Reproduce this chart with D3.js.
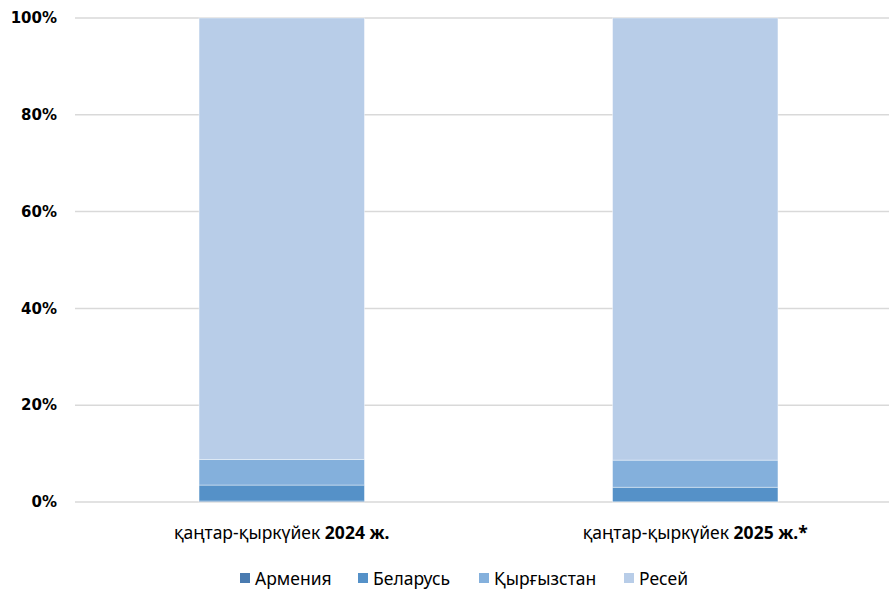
<!DOCTYPE html>
<html>
<head>
<meta charset="utf-8">
<style>
  body { margin: 0; background: #fff; }
</style>
</head>
<body>
<svg id="chart" width="889" height="595"></svg>

<script src="https://d3js.org/d3.v7.min.js"></script>
<script>
  // categories (x) split into a normal and a bold part
  const periods = ['қаңтар-қыркүйек', 'қаңтар-қыркүйек']
  const periodBold = ['2024 ж.', '2025 ж.*']

  // series, bottom to top, % shares
  const countries = ['Армения', 'Беларусь', 'Қырғызстан', 'Ресей']
  const armenia = [0.2, 0.05]
  const belarus = [3.3, 3.0]
  const kyrgyzstan = [5.3, 5.6]
  const russia = [91.2, 91.35]
  const colors = ['#4a7bb0', '#5591c8', '#84b0dc', '#b8cde8']

  const yTicks = [0, 20, 40, 60, 80, 100]

  const svg = d3.select('#chart')
  const plotLeft = 75, plotRight = 902, plotTop = 18, plotBottom = 502

  const rows = periods.map((p, i) => ({
    key: i,
    'Армения': armenia[i],
    'Беларусь': belarus[i],
    'Қырғызстан': kyrgyzstan[i],
    'Ресей': russia[i]
  }))
  const stacked = d3.stack().keys(countries)(rows)

  const x = d3.scaleBand()
    .domain(rows.map(r => r.key))
    .range([plotLeft, plotRight])
    .paddingInner(0.6)
    .paddingOuter(0.3)

  const y = d3.scaleLinear().domain([0, 100]).range([plotBottom, plotTop])

  // gridlines
  svg.append('g')
    .selectAll('line')
    .data(yTicks)
    .join('line')
    .attr('x1', plotLeft).attr('x2', 889)
    .attr('y1', d => y(d)).attr('y2', d => y(d))
    .attr('stroke', '#d9d9d9')
    .attr('stroke-width', 1.5)

  // y labels
  svg.append('g')
    .selectAll('text')
    .data(yTicks)
    .join('text')
    .attr('x', 57)
    .attr('y', d => y(d))
    .attr('dy', '0.35em')
    .attr('text-anchor', 'end')
    .attr('font-family', '"DejaVu Sans", sans-serif')
    .attr('font-weight', 'bold')
    .attr('font-size', 15)
    .attr('fill', '#000')
    .text(d => d + '%')

  // bars
  svg.append('g')
    .selectAll('g')
    .data(stacked)
    .join('g')
    .attr('fill', (d, i) => colors[i])
    .selectAll('rect')
    .data(d => d)
    .join('rect')
    .attr('x', d => x(d.data.key))
    .attr('width', x.bandwidth())
    .attr('y', d => y(d[1]))
    .attr('height', d => y(d[0]) - y(d[1]))
    .attr('stroke', '#fff')
    .attr('stroke-opacity', 0.5)
    .attr('stroke-width', 0.8)

  // x labels
  const xl = svg.append('g')
    .selectAll('text')
    .data(rows)
    .join('text')
    .attr('x', d => x(d.key) + x.bandwidth() / 2)
    .attr('y', 539)
    .attr('text-anchor', 'middle')
    .attr('font-family', '"Noto Sans", sans-serif')
    .attr('font-size', 17.5)
    .attr('fill', '#000')
  xl.append('tspan').text(d => periods[d.key] + ' ')
  xl.append('tspan').attr('font-weight', 'bold').text(d => periodBold[d.key])

  // legend
  const legendX = [240, 358, 479, 624]
  const lg = svg.append('g')
    .selectAll('g')
    .data(countries)
    .join('g')
    .attr('transform', (d, i) => `translate(${legendX[i]},579)`)
  lg.append('rect')
    .attr('x', 0).attr('y', -6)
    .attr('width', 10).attr('height', 10)
    .attr('fill', (d, i) => colors[i])
  lg.append('text')
    .attr('x', 15)
    .attr('y', 0)
    .attr('dy', '0.35em')
    .attr('font-family', '"Noto Sans", sans-serif')
    .attr('font-size', 17.5)
    .attr('fill', '#000')
    .text(d => d)
</script>
</body>
</html>
